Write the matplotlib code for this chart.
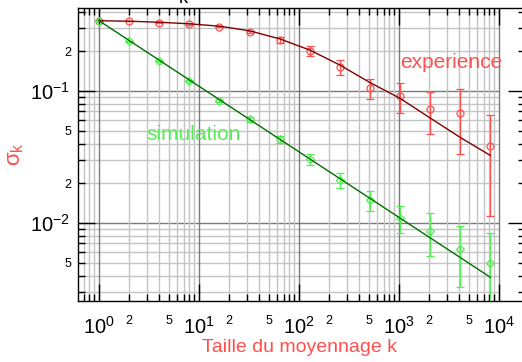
import numpy as np
import matplotlib
matplotlib.use('Agg')
import matplotlib.pyplot as plt
from matplotlib import ticker

plt.rcParams['font.family'] = ['Liberation Sans', 'DejaVu Sans']
plt.rcParams['mathtext.fontset'] = 'custom'
plt.rcParams['mathtext.rm'] = 'Liberation Sans'
plt.rcParams['mathtext.it'] = 'Liberation Sans:italic'
plt.rcParams['mathtext.bf'] = 'Liberation Sans:bold'

# averaging size k
k = [1, 2, 4, 8, 16, 32, 64, 128, 256, 512, 1024, 2048, 4096, 8192]

# experiment: sigma_k and error bars
exp_sigma = [0.341, 0.339, 0.329, 0.322, 0.307, 0.280, 0.243, 0.201, 0.152,
             0.105, 0.0916, 0.0731, 0.0681, 0.0383]
exp_err = [0.002, 0.002, 0.003, 0.003, 0.004, 0.006, 0.012, 0.018, 0.019,
           0.018, 0.023, 0.026, 0.035, 0.027]
# fitted curve for experiment (read at the same k)
exp_fit = [0.3408, 0.3380, 0.3320, 0.3230, 0.3100, 0.2860, 0.2485, 0.2045,
           0.1574, 0.1160, 0.0880, 0.0625, 0.0445, 0.0325]

# simulation
sim_sigma = [0.341, 0.2378, 0.1679, 0.119, 0.0845, 0.0610, 0.0431, 0.0304,
             0.0212, 0.01493, 0.01097, 0.00874, 0.00636, 0.00495]
sim_err = [0.0025, 0.0025, 0.0025, 0.0025, 0.0025, 0.0025, 0.0025, 0.0027,
           0.0028, 0.0025, 0.0026, 0.0031, 0.0031, 0.0034]
# fitted line for simulation (end points)
sim_fit_k = [1, 8192]
sim_fit = [0.341, 0.00388]

red = '#ff5050'
green = '#55ee55'

fig = plt.figure(figsize=(5.22, 3.62), dpi=100)
ax = fig.add_axes([78 / 522, 61 / 362, 447 / 522, 293 / 362])
ax.set_xscale('log')
ax.set_yscale('log')
xlo, xhi = 0.6166, 18197
ylo, yhi = 0.002565, 0.4256
ax.set_xlim(xlo, xhi)
ax.set_ylim(ylo, yhi)

# grid: vertical full height, horizontal stops at 1e4
ax.grid(axis='x', which='major', color='#7a7a7a', lw=1.0, zorder=0)
ax.grid(axis='x', which='minor', color='#c4c4c4', lw=1.0, zorder=0)
for e in range(-3, 0):
    for m in range(1, 10):
        y = m * 10.0 ** e
        if ylo < y < yhi:
            c = '#7a7a7a' if m == 1 else '#c4c4c4'
            ax.hlines(y, xlo, 1e4, colors=c, lw=1.0, zorder=0)

ax.errorbar(k, exp_sigma, yerr=exp_err, fmt='o', mfc='none', mec=red,
            ms=5, mew=0.9, ecolor=red, elinewidth=1.0, capsize=3, capthick=1.0,
            zorder=3)
ax.errorbar(k, sim_sigma, yerr=sim_err, fmt='D', mfc='none', mec=green,
            ms=3.6, mew=0.9, ecolor=green, elinewidth=1.0, capsize=3,
            capthick=1.0, zorder=3)
ax.plot(k, exp_fit, color='#800000', lw=1.0, zorder=4)
ax.plot(sim_fit_k, sim_fit, color='#007000', lw=1.0, zorder=4)

ax.text(1023, 0.149, 'experience', color=red, fontsize=15, ha='left',
        va='baseline')
ax.text(3.0, 0.0426, 'simulation', color=green, fontsize=15, ha='left',
        va='baseline')

# ticks
major_fmt = ticker.FuncFormatter(
    lambda v, p: r'$10^{%d}$' % int(round(np.log10(v))))


def minor_label(v, p):
    lead = int(round(v / 10 ** np.floor(np.log10(v) + 1e-9)))
    return str(lead) if lead in (2, 5) else ''


for axis in (ax.xaxis, ax.yaxis):
    axis.set_major_locator(ticker.LogLocator(base=10, numticks=20))
    axis.set_minor_locator(ticker.LogLocator(base=10, subs=np.arange(2, 10),
                                             numticks=20))
    axis.set_major_formatter(major_fmt)
    axis.set_minor_formatter(ticker.FuncFormatter(minor_label))

ax.tick_params(which='both', direction='in', top=True, right=True,
               color='black', width=1.0)
ax.tick_params(which='major', length=12)
ax.tick_params(which='minor', length=5)
ax.tick_params(axis='x', which='major', labelsize=14.5, pad=11)
ax.tick_params(axis='x', which='minor', labelsize=9, pad=10)
ax.tick_params(axis='y', which='major', labelsize=14.5, pad=6)
ax.tick_params(axis='y', which='minor', labelsize=9, pad=4.5)

for s in ax.spines.values():
    s.set_color('black')
    s.set_linewidth(1.0)

ax.set_xlabel('Taille du moyennage k', color=red, fontsize=14)
ax.xaxis.set_label_coords((300 - 78) / 447, (301 - 339) / 293)
ax.xaxis.label.set_va('top')
ax.set_ylabel(r'$\mathrm{\sigma}_\mathrm{k}$', color=red, fontsize=16)
ax.yaxis.set_label_coords((26 - 78) / 447, 0.5)

# cut-off title fragment at the top edge
fig.text(183 / 522, 1 - 3 / 362, 'k', fontsize=13, ha='center',
         va='baseline', color='black')

fig.savefig('out.png', dpi=100)
